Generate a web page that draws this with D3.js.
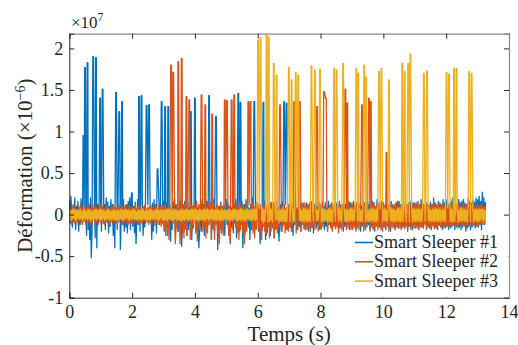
<!DOCTYPE html>
<html><head><meta charset="utf-8">
<script src="https://cdn.jsdelivr.net/npm/d3@7"></script>
<style>html,body{margin:0;padding:0;background:#fff;}svg{display:block;}</style></head>
<body><svg id="chart" width="518" height="345"></svg>
<script>
// Values are in units of 1e5 µε (0.01 × 10^7); baseline sampled every 0.025 s
const dt = 0.025;
const seriesNames = ["Smart Sleeper #1", "Smart Sleeper #2", "Smart Sleeper #3"];
const xTicks = [0, 2, 4, 6, 8, 10, 12, 14];
const yTicks = [-100, -50, 0, 50, 100, 150, 200];
const yTickLabels = ["-1", "-0.5", "0", "0.5", "1", "1.5", "2"];

const base1 = [
18,-10,22,5,-15,12,-8,20,-18,10,-5,16,-20,8,-12,19,-6,14,-22,6,
-10,15,-25,8,-18,12,-30,20,-52,-20,10,-15,18,-28,6,-40,12,-10,16,-22,
8,-20,14,-45,-10,12,-18,20,-8,15,-22,10,-14,18,-6,12,-25,8,-40,-12,
14,-18,10,-25,20,-42,-8,15,-12,18,-20,6,-15,12,-22,16,-10,20,-18,8,
20,-14,10,-22,15,-35,-5,18,-12,10,-20,14,-8,16,-25,8,-15,12,-20,18,
12,-18,16,-10,8,-30,14,-20,18,-6,12,-22,10,-15,20,-12,8,-25,15,-10,
16,-20,10,-25,14,-8,18,-15,12,-32,6,-18,15,-10,20,-22,12,-14,8,-20,
14,-12,18,-38,-10,12,-20,16,-8,10,-25,15,-18,8,-12,20,-30,10,-16,14,
12,-22,16,-10,8,-40,-15,14,-20,18,-8,12,-25,10,-15,16,-18,20,-12,8,
14,-30,10,-15,18,-20,12,-8,16,-42,-12,10,-18,15,-22,8,-14,12,-25,10,
18,-12,14,-20,10,-35,8,-15,16,-22,12,-10,18,-28,6,-16,14,-20,10,-12,
16,-40,-8,12,-22,18,-10,14,-15,8,-30,12,-18,20,-12,10,-22,14,-16,8,
12,-20,10,-35,-8,14,-18,12,-10,16,-30,8,-22,12,-14,10,-25,15,-12,8,
14,-28,10,-12,16,-18,8,-32,-10,12,-20,15,-14,10,-22,12,-8,14,-18,10,
12,-15,8,-20,14,-25,10,-12,16,-10,8,-18,12,-14,10,-20,14,-8,12,-15,
10,-18,14,-8,12,-20,10,-12,16,-15,8,-22,12,-10,14,-16,10,-12,15,-18,
12,-16,15,-10,10,-18,14,-14,8,-20,16,-12,10,-15,14,-18,12,-10,16,-14,
14,-12,10,-18,16,-15,12,-10,8,-20,15,-14,12,-16,10,-12,16,-18,14,-10,
12,-16,16,-12,10,-18,14,-15,18,-10,12,-20,10,-14,16,-12,14,-18,12,-15,
15,-12,12,-18,10,-14,16,-16,14,-20,10,-12,18,-15,12,-10,14,-18,16,-14,
14,-15,10,-18,18,-12,12,-16,14,-20,16,-10,12,-15,10,-18,14,-12,16,-16,
16,-12,12,-18,10,-15,14,-16,18,-12,12,-20,10,-14,16,-15,12,-18,14,-12,
14,-16,12,-14,16,-18,10,-12,18,-15,14,-16,12,-10,16,-18,14,-14,10,-16,
15,-18,12,-12,20,-14,14,-16,10,-18,16,-12,14,-15,12,-18,18,-14,14,-16,
18,-14,14,-18,12,-16,16,-15,20,-12,14,-18,16,-14,12,-16,18,-15,14,-18,
16,-15,18,-12,14,-20,12,-16,20,-14,16,-18,14,-15,18,-12,15,-16,20,-14,
18,-15,22,-12,16,-18,27,-8,20,-12,15];
const spikeT1 = [0.45,0.50,0.58,0.76,0.85,0.98,1.06,1.49,1.59,1.68,1.99,2.22,2.30,2.46,2.54,2.81,2.94,3.05,3.15,3.87,4.00,4.45,4.67,5.38,5.45,5.89,6.18,6.84,6.92];
const spikeV1 = [95,177,183,190,189,140,151,147,124,136,26,142,143,131,132,55,136,130,130,124,140,143,118,146,135,136,135,136,134];

const base2 = [
8,-10,6,-12,10,-4,12,-11,7,-9,5,-12,9,-6,11,-10,8,-12,6,-8,
10,-12,8,-6,11,-9,6,-12,9,-10,12,-5,8,-11,10,-8,7,-12,11,-9,
12,-8,10,-11,7,-12,9,-6,11,-10,8,-12,6,-9,10,-11,12,-7,9,-10,
8,-11,10,-9,12,-6,7,-12,9,-11,10,-8,12,-10,6,-12,11,-9,8,-10,
10,-9,8,-12,11,-6,7,-11,12,-9,9,-10,6,-12,10,-8,11,-11,7,-9,
9,-12,10,-8,11,-11,8,-6,12,-13,10,-9,7,-12,11,-10,9,-14,12,-11,
10,-18,12,-15,8,-25,10,-30,12,-20,14,-12,8,-28,10,-35,-15,12,-20,10,
14,-35,-10,12,-22,8,-28,12,-18,10,-25,14,-15,8,-30,12,-20,10,-14,12,
10,-20,14,-32,-8,12,-18,10,-25,14,-20,8,-15,12,-28,10,-22,14,-12,10,
12,-28,10,-18,14,-30,8,-12,12,-22,10,-35,-12,14,-20,10,-25,12,-15,8,
12,-20,14,-25,10,-32,-10,12,-18,14,-28,8,-15,12,-22,10,-30,14,-18,10,
10,-22,12,-35,-8,14,-20,10,-25,12,-30,8,-15,14,-22,10,-28,12,-18,14,
14,-18,10,-22,12,-30,8,-14,14,-20,10,-25,12,-12,8,-28,14,-20,10,-16,
12,-28,14,-18,10,-22,8,-15,12,-25,14,-20,10,-12,12,-22,8,-18,14,-20,
10,-15,12,-20,14,-12,10,-18,12,-22,8,-14,14,-16,10,-20,12,-12,14,-18,
14,-15,10,-18,12,-14,14,-20,10,-16,12,-12,8,-18,14,-15,10,-20,12,-14,
12,-18,14,-15,10,-20,12,-14,14,-18,8,-12,12,-16,14,-20,10,-14,12,-17,
10,-15,12,-22,14,-16,10,-18,12,-15,14,-12,10,-18,12,-16,14,-14,8,-18,
14,-18,10,-15,12,-20,14,-16,10,-18,12,-14,14,-16,10,-20,12,-15,14,-12,
12,-16,14,-20,10,-15,12,-18,14,-16,10,-14,12,-18,14,-15,10,-16,12,-20,
10,-15,12,-18,14,-14,10,-20,12,-15,14,-16,10,-12,12,-18,14,-15,10,-16,
14,-16,10,-18,12,-14,14,-17,10,-15,12,-16,14,-13,10,-18,12,-14,14,-16,
12,-14,14,-16,10,-18,12,-15,14,-14,10,-16,12,-12,14,-17,10,-15,12,-14,
10,-16,12,-14,14,-17,10,-15,12,-16,14,-13,10,-15,12,-14,14,-16,10,-12,
12,-13,10,-15,12,-12,10,-14,12,-13,10,-12,12,-15,10,-13,12,-11,10,-14,
10,-12,12,-14,10,-12,12,-13,10,-12,12,-14,10,-11,12,-13,10,-12,11,-13,
12,-13,10,-12,11,-10,12,-12,10,-11,9];
const spikeT2 = [3.24,3.31,3.47,3.58,3.73,3.82,4.21,4.33,4.55,4.95,5.02,5.17,5.25,5.70,5.77,6.71,7.16,7.34,7.89,8.11,8.17,8.79,8.85,9.32,9.54,9.60,10.10];
const spikeV2 = [180,171,184,188,142,138,144,132,121,138,137,138,144,136,136,132,136,136,130,148,140,151,134,132,140,136,75];

const base3 = [
4,-6,5,-7,6,-5,7,-6,5,-7,6,-4,5,-6,7,-5,4,-7,6,-5,
6,-5,4,-6,7,-5,6,-7,5,-6,4,-7,6,-5,7,-6,5,-4,6,-7,
7,-6,5,-5,6,-7,4,-6,6,-5,7,-6,5,-7,4,-5,6,-7,5,-6,
5,-7,6,-6,4,-5,7,-6,5,-7,6,-5,7,-4,5,-6,6,-7,4,-5,
6,-5,7,-6,5,-6,4,-7,6,-5,5,-7,6,-6,7,-5,4,-6,6,-7,
5,-6,6,-7,7,-5,5,-6,4,-6,6,-5,7,-7,5,-6,6,-4,5,-7,
6,-7,5,-6,7,-8,6,-5,7,-6,5,-7,6,-8,7,-5,6,-7,5,-6,
5,-7,6,-8,7,-6,5,-7,6,-5,7,-8,6,-6,5,-7,7,-5,6,-8,
7,-6,6,-7,5,-8,7,-6,6,-7,5,-6,7,-8,6,-5,7,-7,5,-6,
6,-5,7,-7,5,-6,6,-8,7,-6,6,-7,5,-8,7,-6,5,-7,6,-5,
5,-7,6,-6,7,-8,5,-6,6,-7,7,-5,6,-8,5,-7,6,-6,7,-8,
7,-6,5,-7,6,-8,7,-5,6,-7,5,-6,7,-8,6,-5,7,-7,6,-6,
6,-8,7,-9,5,-7,8,-10,6,-8,7,-6,8,-9,5,-8,7,-7,6,-9,
7,-9,6,-7,8,-6,5,-10,7,-8,6,-8,8,-7,5,-9,7,-8,8,-8,
6,-8,8,-7,5,-9,7,-8,6,-8,8,-9,6,-7,7,-8,5,-8,8,-9,
8,-7,6,-9,7,-8,5,-8,8,-7,6,-8,7,-9,8,-8,6,-7,5,-8,
6,-9,7,-8,8,-8,6,-7,5,-9,7,-8,8,-8,6,-9,7,-7,8,-8,
7,-8,6,-8,8,-7,5,-9,7,-8,8,-8,6,-9,7,-8,5,-8,8,-7,
8,-8,6,-7,7,-9,8,-8,6,-8,7,-8,5,-9,8,-7,6,-8,7,-8,
5,-8,7,-9,6,-7,8,-8,7,-8,6,-9,8,-7,5,-8,7,-8,6,-9,
6,-7,8,-8,5,-9,7,-8,6,-7,8,-8,7,-9,6,-8,5,-8,8,-7,
8,-9,6,-8,7,-8,5,-7,8,-9,6,-8,7,-8,8,-7,6,-9,7,-8,
7,-8,6,-8,8,-7,6,-9,7,-8,5,-8,8,-8,7,-9,6,-7,8,-8,
5,-8,7,-8,6,-9,8,-7,7,-8,6,-8,8,-9,5,-7,7,-8,6,-8,
6,-8,8,-7,5,-8,7,-9,6,-8,8,-8,6,-7,7,-9,5,-8,8,-8,
8,-7,6,-8,7,-8,5,-9,8,-7,6,-8,7,-8,8,-9,6,-7,7,-8,
6,-8,7,-8,6,-5,7,-8,6,-7,5];
const spikeT3 = [6.01,6.09,6.28,6.35,6.51,6.60,6.99,7.08,7.21,7.29,7.71,7.82,7.98,8.43,8.51,8.72,9.14,9.20,9.39,9.45,9.86,9.94,10.18,10.60,10.68,10.79,10.86,11.29,11.39,12.01,12.09,12.25,12.33,12.73,12.81];
const spikeV3 = [210,213,217,214,182,168,177,162,171,168,179,174,175,176,174,182,176,170,180,165,172,176,162,182,172,182,193,170,173,171,169,176,176,172,170];

const colors = ["#0072BD", "#D95319", "#EDB120"];
const FONT = "Liberation Serif";
const spikeHalfTop = 0.011, spikeClear = 0.02;

function buildSeries(base, st, sv) {
  const pts = [];
  base.forEach((v, i) => {
    const t = i * dt;
    if (!st.some(s => Math.abs(s - t) < spikeClear)) pts.push([t, v]);
  });
  st.forEach((t, k) => { pts.push([t - spikeHalfTop, sv[k]]); pts.push([t + spikeHalfTop, sv[k]]); });
  pts.sort((a, b) => a[0] - b[0]);
  return pts;
}
const data = [
  buildSeries(base1, spikeT1, spikeV1),
  buildSeries(base2, spikeT2, spikeV2),
  buildSeries(base3, spikeT3, spikeV3)
];

const svg = d3.select("#chart");
const L = 69.3, R = 509, T = 33.7, B = 297.7;
const x = d3.scaleLinear().domain([0, 14]).range([L, R]);
const y = d3.scaleLinear().domain([-100, 217.7]).range([B, T]);
const txt = "#262626";

function setFont(sel, px) {
  return sel.attr("font-family", FONT).style("font-family", FONT).style("font-size", px + "px");
}

svg.append("defs").append("clipPath").attr("id", "clip")
  .append("rect").attr("x", L).attr("y", T).attr("width", R - L).attr("height", B - T);

const line = d3.line().x(d => x(d[0])).y(d => y(d[1]));
const g = svg.append("g").attr("clip-path", "url(#clip)");
data.forEach((s, i) => {
  g.append("path").datum(s).attr("d", line)
    .attr("fill", "none").attr("stroke", colors[i])
    .attr("stroke-width", 1.3).attr("stroke-linejoin", "round");
});

// Axes
const ax = svg.append("g").attr("transform", `translate(0,${B})`)
  .call(d3.axisBottom(x).tickValues(xTicks).tickSize(-5).tickPadding(8).tickFormat(d3.format("d")));
const axTop = svg.append("g").attr("transform", `translate(0,${T})`)
  .call(d3.axisTop(x).tickValues(xTicks).tickSize(-5).tickFormat(""));
const ay = svg.append("g").attr("transform", `translate(${L},0)`)
  .call(d3.axisLeft(y).tickValues(yTicks).tickSize(-5).tickPadding(6).tickFormat((d, i) => yTickLabels[i]));
const ayR = svg.append("g").attr("transform", `translate(${R},0)`)
  .call(d3.axisRight(y).tickValues(yTicks).tickSize(-5).tickFormat(""));
[ax, ay].forEach(a => {
  a.attr("font-family", FONT);
  setFont(a.selectAll("text"), 18).attr("fill", txt);
  a.select(".domain").attr("stroke", "#262626");
  a.selectAll(".tick line").attr("stroke", "#262626");
});
[axTop, ayR].forEach(a => {
  a.select(".domain").attr("stroke", "#8a8a8a").attr("stroke-width", 1.2);
  a.selectAll(".tick line").attr("stroke", "#262626");
});

// Exponent
const ex = setFont(svg.append("text").attr("x", 71).attr("y", 28).attr("fill", txt), 17);
ex.append("tspan").text("×10");
ex.append("tspan").attr("dy", -7).style("font-size", "12px").text("7");

// Axis labels
setFont(svg.append("text").attr("x", (L + R) / 2).attr("y", 341).attr("text-anchor", "middle")
  .attr("fill", txt), 21).text("Temps (s)");
const yl = setFont(svg.append("text").attr("transform", `translate(32,${(T + B) / 2}) rotate(-90)`)
  .attr("text-anchor", "middle").attr("fill", txt), 21);
yl.append("tspan").text("Déformation (×10");
yl.append("tspan").attr("dy", -7).style("font-size", "14px").text("−6");
yl.append("tspan").attr("dy", 7).text(")");

// Legend
const lg = svg.append("g");
lg.append("rect").attr("x", 351).attr("y", 233).attr("width", R - 351 - 0.5).attr("height", B - 233 - 0.5).attr("fill", "#fff");
seriesNames.forEach((n, i) => {
  const yy = 242.5 + i * 19.3;
  lg.append("line").attr("x1", 355).attr("x2", 373).attr("y1", yy).attr("y2", yy)
    .attr("stroke", colors[i]).attr("stroke-width", 1.6);
  setFont(lg.append("text").attr("x", 374).attr("y", yy + 5.5).attr("fill", txt), 18).text(n);
});
</script></body></html>
